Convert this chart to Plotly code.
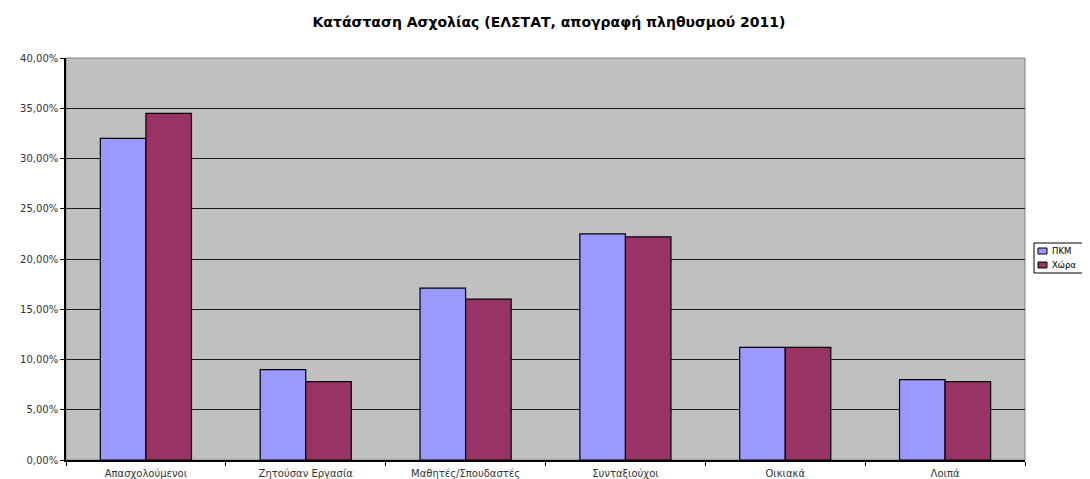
import plotly.graph_objects as go

categories = ["Απασχολούμενοι", "Ζητούσαν Εργασία", "Μαθητές/Σπουδαστές",
              "Συνταξιούχοι", "Οικιακά", "Λοιπά"]
pkm = [0.320, 0.090, 0.171, 0.225, 0.112, 0.080]
xwra = [0.345, 0.078, 0.160, 0.222, 0.112, 0.078]
series_names = ["ΠΚΜ", "Χώρα"]
series_colors = ["#9999FF", "#993366"]
title_text = "Κατάσταση Ασχολίας (ΕΛΣΤΑΤ, απογραφή πληθυσμού 2011)"

# The page body has an 8px default margin; size the figure to fit the window.
W, H = 1082, 471
L, R, T, B = 58, 65, 50, 19
PW, PH = W - L - R, H - T - B


def px_x(px):
    return (px - L) / PW


def px_y(py):
    return (H - B - py) / PH


fig = go.Figure()
for name, vals, col in zip(series_names, [pkm, xwra], series_colors):
    fig.add_trace(go.Bar(x=categories, y=vals, name=name, showlegend=False,
                         marker=dict(color=col, line=dict(color="#000000", width=1.2))))

fig.update_layout(
    width=W, height=H,
    margin=dict(l=L, r=R, t=T, b=B, autoexpand=False),
    paper_bgcolor="white",
    plot_bgcolor="#C0C0C0",
    separators=",.",
    barmode="group",
    bargap=0.43,
    bargroupgap=0,
    font=dict(family="DejaVu Sans", size=8, color="#000000"),
    title=dict(text="<b>" + title_text + "</b>", x=0.5, xanchor="center",
               y=1 - 14 / H, yanchor="middle",
               font=dict(family="DejaVu Sans", size=14, color="#000000")),
)
fig.update_yaxes(range=[0, 0.40], dtick=0.05, tickformat=".2%",
                 showgrid=True, gridcolor="#1a1a1a", gridwidth=1,
                 showline=True, linecolor="#000000", linewidth=1.5,
                 ticks="outside", ticklen=4, tickcolor="#000000",
                 zeroline=False, tickfont=dict(size=10, color="#333333"))
fig.update_xaxes(showline=True, linecolor="#000000", linewidth=1.5,
                 ticks="outside", tickson="boundaries", ticklen=4,
                 ticklabelstandoff=3,
                 tickcolor="#000000", tickfont=dict(size=10, color="#333333"))
fig.add_shape(type="rect", xref="paper", yref="paper", x0=0, x1=1, y0=0, y1=1,
              line=dict(color="#808080", width=1), layer="below")

# Legend box (Excel style, compact)
fig.add_shape(type="rect", xref="paper", yref="paper",
              x0=px_x(1026), x1=px_x(1081), y0=px_y(265), y1=px_y(235),
              line=dict(color="#000000", width=1), fillcolor="white")
for i, (name, col) in enumerate(zip(series_names, series_colors)):
    cy = 243 + i * 14
    fig.add_shape(type="rect", xref="paper", yref="paper",
                  x0=px_x(1030), x1=px_x(1039), y0=px_y(cy + 3), y1=px_y(cy - 3),
                  line=dict(color="#000000", width=1), fillcolor=col)
    fig.add_annotation(xref="paper", yref="paper", x=px_x(1042), y=px_y(cy),
                       text=name, showarrow=False, xanchor="left", yanchor="middle",
                       font=dict(family="DejaVu Sans", size=8.5, color="#000000"))

fig.write_html("out.html")
